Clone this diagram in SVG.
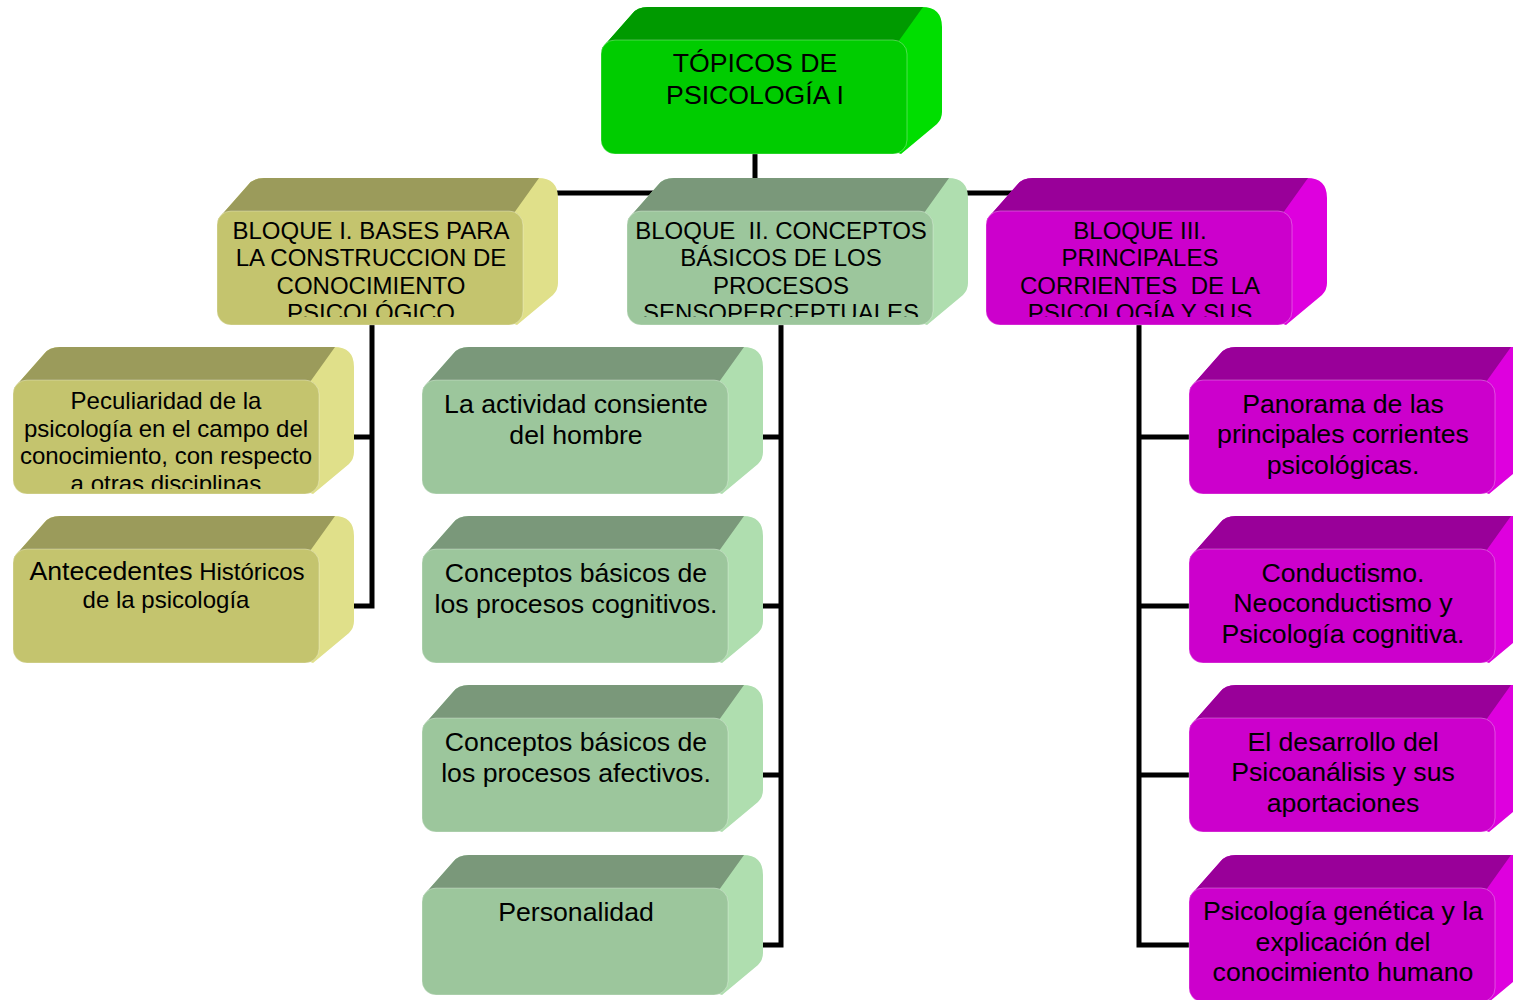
<svg xmlns="http://www.w3.org/2000/svg" width="1513" height="1000" viewBox="0 0 1513 1000">
<style>
text{font-family:"Liberation Sans",Arial,sans-serif;fill:#000;text-anchor:middle;white-space:pre}
.t24{font-size:24px}
.t27{font-size:26.67px}
.front{stroke:rgba(255,255,255,0.3);stroke-width:1}
.green .side{fill:#00DE00}.green .top{fill:#009A00}.green .front{fill:#00CC00}
.olive .side{fill:#E0E08A}.olive .top{fill:#9B9B5B}.olive .front{fill:#C4C46E}
.sage .side{fill:#AFDEAF}.sage .top{fill:#7A987A}.sage .front{fill:#9CC69C}
.purple .side{fill:#DE00DE}.purple .top{fill:#990099}.purple .front{fill:#CC00CC}
</style>
<defs>
<path id="hull" d="M1,8 L31,-26 Q36,-33 47,-33 L321,-33 Q341,-33 341,-13 L341,72 Q341,79 336,84 L300,114 Z"/>
<path id="hullS" d="M1,8 L31,-26 Q36,-33 47,-33 L321,-33 Q341,-33 341,-13 L341,65 Q341,72 336,77 L300,107 Z"/>
<path id="topf" d="M1,8 L31,-26 Q36,-33 47,-33 L322,-33 L297,2 L10,2 Z"/>
<clipPath id="clipB" clipPathUnits="userSpaceOnUse"><rect x="2" y="2" width="302" height="104"/></clipPath>
<clipPath id="clipL" clipPathUnits="userSpaceOnUse"><rect x="2" y="2" width="302" height="107"/></clipPath>
</defs>

<g id="connectors">
<path d="M755,154 V193 M372,193 H1139 M372,193 V606 H353 M372,437 H353 M781,193 V945 H763 M781,437 H763 M781,606 H763 M781,775 H763 M1139,193 V945 H1189 M1139,437 H1189 M1139,606 H1189 M1139,775 H1189" stroke="#000" stroke-width="5" fill="none"/>
</g>

<g id="n-topicos" class="green" transform="translate(601,40)">
<use href="#hull" class="side"/><use href="#topf" class="top"/>
<rect class="front" width="306" height="114" rx="14"/>
<text class="t27" x="154" y="32">TÓPICOS DE</text>
<text class="t27" x="154" y="63.5">PSICOLOGÍA I</text>
</g>

<g id="n-bloque1" class="olive" transform="translate(217,211)">
<use href="#hull" class="side"/><use href="#topf" class="top"/>
<rect class="front" width="306" height="114" rx="14"/>
<g clip-path="url(#clipB)">
<text class="t24" x="154" y="27.5">BLOQUE I. BASES PARA</text>
<text class="t24" x="154" y="55">LA CONSTRUCCION DE</text>
<text class="t24" x="154" y="82.5">CONOCIMIENTO</text>
<text class="t24" x="154" y="110">PSICOLÓGICO</text>
</g>
</g>

<g id="n-bloque2" class="sage" transform="translate(627,211)">
<use href="#hull" class="side"/><use href="#topf" class="top"/>
<rect class="front" width="306" height="114" rx="14"/>
<g clip-path="url(#clipB)">
<text class="t24" x="154" y="27.5">BLOQUE  II. CONCEPTOS</text>
<text class="t24" x="154" y="55">BÁSICOS DE LOS</text>
<text class="t24" x="154" y="82.5">PROCESOS</text>
<text class="t24" x="154" y="110">SENSOPERCEPTUALES</text>
</g>
</g>

<g id="n-bloque3" class="purple" transform="translate(986,211)">
<use href="#hull" class="side"/><use href="#topf" class="top"/>
<rect class="front" width="306" height="114" rx="14"/>
<g clip-path="url(#clipB)">
<text class="t24" x="154" y="27.5">BLOQUE III.</text>
<text class="t24" x="154" y="55">PRINCIPALES</text>
<text class="t24" x="154" y="82.5">CORRIENTES  DE LA</text>
<text class="t24" x="154" y="110">PSICOLOGÍA Y SUS</text>
</g>
</g>

<g id="n-peculiaridad" class="olive" transform="translate(13,380)">
<use href="#hull" class="side"/><use href="#topf" class="top"/>
<rect class="front" width="306" height="114" rx="14"/>
<g clip-path="url(#clipL)">
<text class="t24" x="153" y="29">Peculiaridad de la</text>
<text class="t24" x="153" y="56.5">psicología en el campo del</text>
<text class="t24" x="153" y="84">conocimiento, con respecto</text>
<text class="t24" x="153" y="111.5">a otras disciplinas</text>
</g>
</g>

<g id="n-antecedentes" class="olive" transform="translate(13,549)">
<use href="#hull" class="side"/><use href="#topf" class="top"/>
<rect class="front" width="306" height="114" rx="14"/>
<text class="t24" x="154" y="31"><tspan font-size="26.67">Antecedentes</tspan> Históricos</text>
<text class="t24" x="153" y="58.5">de la psicología</text>
</g>

<g id="n-actividad" class="sage" transform="translate(422,380)">
<use href="#hull" class="side"/><use href="#topf" class="top"/>
<rect class="front" width="306" height="114" rx="14"/>
<text class="t27" x="154" y="32.5">La actividad consiente</text>
<text class="t27" x="154" y="63.5">del hombre</text>
</g>

<g id="n-cognitivos" class="sage" transform="translate(422,549)">
<use href="#hull" class="side"/><use href="#topf" class="top"/>
<rect class="front" width="306" height="114" rx="14"/>
<text class="t27" x="154" y="32.5">Conceptos básicos de</text>
<text class="t27" x="154" y="63.5">los procesos cognitivos.</text>
</g>

<g id="n-afectivos" class="sage" transform="translate(422,718)">
<use href="#hull" class="side"/><use href="#topf" class="top"/>
<rect class="front" width="306" height="114" rx="14"/>
<text class="t27" x="154" y="32.5">Conceptos básicos de</text>
<text class="t27" x="154" y="63.5">los procesos afectivos.</text>
</g>

<g id="n-personalidad" class="sage" transform="translate(422,888)">
<use href="#hullS" class="side"/><use href="#topf" class="top"/>
<rect class="front" width="306" height="107" rx="14"/>
<text class="t27" x="154" y="33">Personalidad</text>
</g>

<g id="n-panorama" class="purple" transform="translate(1189,380)">
<use href="#hull" class="side"/><use href="#topf" class="top"/>
<rect class="front" width="306" height="114" rx="14"/>
<text class="t27" x="154" y="32.5">Panorama de las</text>
<text class="t27" x="154" y="63">principales corrientes</text>
<text class="t27" x="154" y="93.5">psicológicas.</text>
</g>

<g id="n-conductismo" class="purple" transform="translate(1189,549)">
<use href="#hull" class="side"/><use href="#topf" class="top"/>
<rect class="front" width="306" height="114" rx="14"/>
<text class="t27" x="154" y="32.5">Conductismo.</text>
<text class="t27" x="154" y="63">Neoconductismo y</text>
<text class="t27" x="154" y="93.5">Psicología cognitiva.</text>
</g>

<g id="n-psicoanalisis" class="purple" transform="translate(1189,718)">
<use href="#hull" class="side"/><use href="#topf" class="top"/>
<rect class="front" width="306" height="114" rx="14"/>
<text class="t27" x="154" y="32.5">El desarrollo del</text>
<text class="t27" x="154" y="63">Psicoanálisis y sus</text>
<text class="t27" x="154" y="93.5">aportaciones</text>
</g>

<g id="n-genetica" class="purple" transform="translate(1189,888)">
<use href="#hull" class="side"/><use href="#topf" class="top"/>
<rect class="front" width="306" height="114" rx="14"/>
<text class="t27" x="154" y="32">Psicología genética y la</text>
<text class="t27" x="154" y="62.5">explicación del</text>
<text class="t27" x="154" y="93">conocimiento humano</text>
</g>
</svg>
